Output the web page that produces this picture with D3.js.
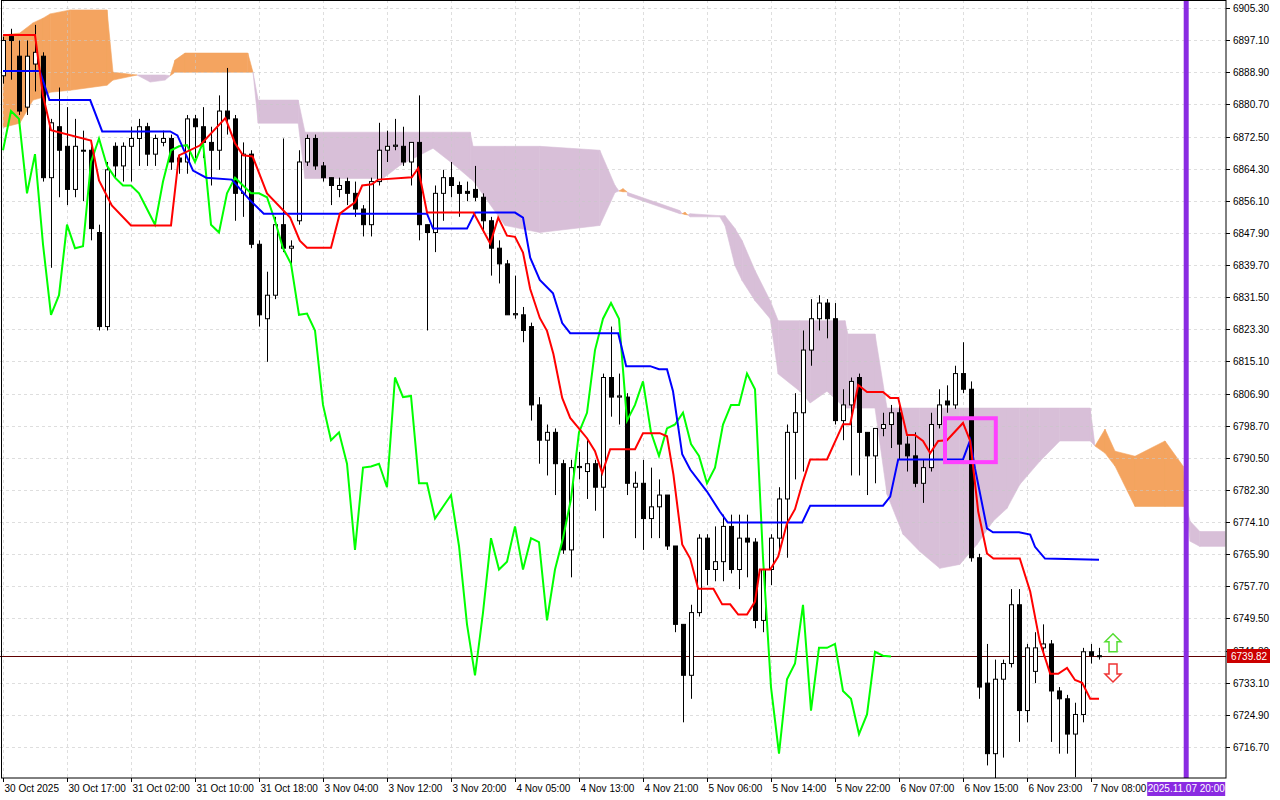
<!DOCTYPE html>
<html><head><meta charset="utf-8">
<script src="https://cdn.jsdelivr.net/npm/d3@7"></script>
<style>body{margin:0;background:#fff}svg{display:block}text{font-family:"Liberation Sans",Arial,sans-serif;font-size:10px;fill:#000}</style>
</head><body><svg id="c" width="1280" height="800"></svg>
<script>
// ---- data ----
const opens  = [6888,6898,6893,6880,6891,6893,6862,6875,6870,6859,6869,6869,6848,6824,6870,6865,6870,6872,6875,6868,6871,6872,6867,6866,6877,6875,6871,6869,6879,6877,6858,6868,6845,6826,6832,6850,6844,6851,6866,6872,6865,6862,6859,6861,6858,6854,6850,6861,6869,6870,6870,6866,6871,6850,6848,6858,6862,6860,6858.5,6859,6857,6851,6844,6840,6827,6827,6824,6804,6795,6797,6789,6767,6788,6787,6789,6783,6811,6806,6806,6783,6784,6775,6778,6781,6768,6748,6735,6751,6770,6762,6764,6773,6762,6770,6769,6749,6762,6770,6780,6797,6802,6818,6826,6830,6826,6800,6804,6811,6797,6791,6798,6799,6802,6794,6791,6784,6788,6799,6805,6804,6812,6808,6765,6733,6715,6734,6738,6753,6726,6736,6742,6743,6731,6729,6720,6725,6741,6740];
const highs  = [6898,6900,6897,6897,6901,6894,6877,6885,6880,6877,6874,6870,6850,6866,6871,6871,6875,6877,6876,6873,6874,6873,6868,6878,6878,6880,6875,6883,6890,6878,6871,6869,6846,6838,6852,6872,6846,6869,6873,6873,6866,6862,6862,6862,6861,6855,6862,6876,6874,6877,6875,6871,6883,6850,6860,6864,6866,6861,6861,6865,6858,6852,6846,6841,6837,6829,6825,6806,6799,6798,6790,6790,6792,6795,6790,6812,6824,6812,6807,6787,6790,6788,6785,6781,6768,6748,6753,6771,6771,6773,6776,6776,6776,6776,6770,6763,6771,6783,6799,6807,6823,6831,6832,6831,6830,6808,6811,6812,6797,6798,6802,6804,6804,6796,6797,6790,6802,6808,6809,6814,6820,6810,6766,6743,6739,6739,6757,6757,6743,6746,6748,6744,6732,6730,6728,6742,6743,6742];
const lows   = [6886,6887,6878,6878,6884,6861,6839,6857,6855,6857,6856,6846,6823,6823,6862,6861,6861,6865,6865,6865,6870,6864,6863,6863,6867,6867,6860,6864,6873,6851,6852,6844,6824,6815,6831,6843,6840,6850,6865,6864,6861,6855,6857,6855,6852,6847,6847,6860,6866,6869,6865,6860,6846,6823,6843,6851,6857,6852,6856,6856,6848,6837,6835,6827,6826,6820,6800,6789,6786,6781,6766,6760,6785,6780,6777,6770,6801,6799,6781,6770,6767,6770,6770,6767,6746,6723,6729,6750,6758,6759,6759,6761,6757,6760,6747,6746,6758,6766,6765,6785,6787,6814,6823,6821,6799,6795,6786,6786,6781,6784,6796,6793,6790,6787,6783,6779,6787,6798,6802,6803,6807,6764,6729,6712,6708,6714,6737,6718,6723,6733,6740,6718,6715,6715,6709,6723,6738,6739];
const closes = [6897,6897,6879,6893,6894,6862,6876,6869,6859,6870,6869,6849,6824,6864,6865,6870,6872,6875,6868,6872,6872,6866,6866,6877,6875,6871,6869,6879,6877,6858,6868,6845,6827,6832,6850,6844,6844.5,6866,6872,6865,6862,6860,6860,6858,6854,6850,6861,6869,6870,6870.3,6866,6871,6850,6848,6858,6862,6860,6858,6858,6857,6851,6844,6840,6827,6827.3,6823,6804,6795,6797,6789,6767,6788,6788.3,6789,6783,6811,6806,6806.3,6784,6784,6775,6778,6781,6768,6748,6735,6751,6770,6762,6764,6773,6762,6770,6769,6749,6762,6770,6780,6797,6802,6818,6826,6830,6826,6800,6804,6810,6797,6791,6798,6799,6802,6794,6791,6784,6788,6799,6804,6804,6812,6808,6765,6732,6715,6734,6738,6753,6726,6742,6742,6743,6731,6729,6720,6725,6741,6740,6739.82];
// Tenkan-sen [bar, price]
const tenkan = [[0,6898.4],[4,6898.4],[5,6883.0],[6,6874.1],[11,6871.5],[12,6861.3],[13.6,6854.9],[16,6849.8],[21,6849.8],[22,6867.7],[24.6,6870.2],[27.8,6877.2],[29,6870.8],[30,6867.7],[31.2,6867.4],[33,6858.0],[35.9,6851.8],[37.1,6845.9],[38,6844.1],[41,6844.1],[42.1,6852.8],[44,6855.7],[44.9,6860.0],[46.1,6860.3],[46.9,6861.5],[51.1,6862.1],[51.9,6864.4],[53,6853.1],[58.8,6853.1],[60.9,6845.2],[61.9,6851.8],[63,6847.2],[64,6846.9],[65,6842.9],[65.9,6833.6],[67.1,6826.2],[68,6822.9],[68.8,6817.0],[69.9,6805.8],[70.9,6800.7],[73,6795.5],[74,6792.2],[74.9,6786.6],[75.9,6792.7],[79,6792.7],[80,6796.8],[82.1,6796.8],[83,6796.0],[83.8,6786.3],[84.9,6768.4],[85.9,6764.8],[86.9,6757.1],[88.8,6757.1],[89.9,6753.1],[90.9,6753.1],[91.9,6750.5],[93,6750.5],[94,6753.8],[94.6,6762.0],[95.9,6762.0],[96.9,6765.3],[98,6773.8],[99,6777.4],[100,6784.5],[100.9,6790.1],[103,6790.1],[105,6799.1],[105.9,6799.1],[106.9,6809.1],[108,6807.3],[110,6807.3],[110.9,6805.8],[111.9,6805.8],[113,6796.3],[114,6796.3],[115,6794.8],[115.9,6791.7],[116.9,6794.8],[118,6795.0],[120,6799.4],[120.9,6794.8],[121.9,6776.8],[123,6766.1],[123.8,6764.8],[127.1,6764.8],[128.4,6756.4],[129.6,6743.6],[130.9,6735.4],[131.9,6735.4],[133,6736.9],[134,6733.8],[134.9,6733.1],[135.9,6729.0],[137,6729.0]];
// Kijun-sen [bar, price]
const kijun = [[0,6889.2],[4.6,6889.2],[5.8,6881.8],[10.9,6881.8],[12.4,6873.8],[20.9,6873.8],[21.8,6872.8],[23.75,6863.8],[25.4,6862.0],[28.6,6861.5],[30.9,6856.2],[32.6,6852.8],[53,6852.8],[53.75,6849.0],[58,6849.0],[59,6853.1],[64,6853.1],[65,6851.8],[65.9,6841.6],[67.1,6835.9],[68.75,6832.5],[69.9,6824.9],[70.9,6822.3],[76.9,6822.3],[77.9,6813.9],[80.9,6813.9],[82,6813.1],[83,6813.1],[83.75,6807.5],[84.9,6791.4],[85.9,6787.5],[88,6781.9],[89.6,6776.8],[90.6,6774.0],[99.9,6774.0],[100.9,6778.3],[110,6778.3],[110.9,6780.6],[111.9,6790.1],[120,6790.1],[120.9,6795.0],[121.5,6787.8],[123,6772.5],[123.75,6771.5],[127,6771.5],[128.4,6770.9],[129,6767.8],[130.25,6764.8],[137,6764.5]];
// Kumo: [bar, Senkou A, Senkou B]
const kumo = [[0,6898.4,6874.8],[2.1,6898.9,6875.9],[3.75,6901.5,6881.8],[5,6902.7,6882.5],[5.9,6903.8,6883.8],[8.4,6904.8,6884.3],[13,6904.8,6885.6],[13.75,6888.9,6886.9],[16.75,6888.2,6888.2],[18.4,6886.4,6888.2],[20.25,6886.9,6888.2],[20.9,6888.0,6888.0],[21.5,6892.0,6888.9],[22.75,6893.8,6888.9],[30.6,6893.8,6888.9],[31.25,6888.9,6888.9],[31.9,6875.9,6881.8],[36.9,6875.9,6881.8],[37.75,6861.8,6873.6],[47.5,6861.8,6873.6],[49.6,6865.1,6873.6],[53.75,6869.5,6873.6],[56.5,6865.1,6873.6],[58.4,6861.8,6873.6],[58.75,6861.3,6870.0],[62.75,6849.8,6870.0],[67.1,6848.0,6870.0],[74.6,6849.8,6869.0],[76.5,6858.2,6860.0],[77.0,6858.6,6858.6],[77.5,6859.2,6858.4],[78.0,6858.4,6858.4],[78.1,6857.4,6858.2],[84.6,6852.8,6853.6],[84.9,6852.8,6852.8],[85.25,6853.2,6852.6],[85.6,6852.5,6852.5],[85.9,6852.0,6852.8],[89.6,6852.0,6852.3],[90.25,6849.8,6852.3],[91.5,6839.5,6849.0],[92.4,6835.7,6845.9],[94,6830.6,6838.3],[95.9,6826.0,6830.6],[96.9,6811.9,6825.5],[99.6,6807.5,6825.5],[100.9,6804.5,6825.5],[103,6807.5,6825.5],[105.25,6803.2,6825.5],[105.6,6803.2,6822.1],[109,6803.2,6822.1],[110.5,6781.2,6803.2],[112.5,6771.0,6803.2],[114.6,6766.6,6803.2],[117.1,6762.3,6803.2],[119.6,6763.3,6803.2],[121.75,6768.4,6803.2],[123.75,6774.3,6803.2],[125.5,6777.6,6803.2],[127.1,6783.7,6803.2],[129.6,6789.6,6803.2],[132.1,6794.8,6803.2],[135.9,6794.8,6803.2],[136.5,6793.5,6793.5],[137.75,6797.8,6791.7],[139,6792.2,6788.4],[141.5,6790.9,6778.1],[145.25,6794.8,6778.1],[147.5,6788.4,6778.1],[147.9,6778.1,6778.1],[148.4,6769.2,6774.3],[149.6,6767.9,6771.7],[152.75,6767.9,6771.7]];
const chikouShift = 26;
const timeLabels = ["30 Oct 2025","30 Oct 17:00","31 Oct 02:00","31 Oct 10:00","31 Oct 18:00","3 Nov 04:00","3 Nov 12:00","3 Nov 20:00","4 Nov 05:00","4 Nov 13:00","4 Nov 21:00","5 Nov 06:00","5 Nov 14:00","5 Nov 22:00","6 Nov 07:00","6 Nov 15:00","6 Nov 23:00","7 Nov 08:00"];
const priceTicks = d3.range(0,24).map(k=>+(6716.7+8.2*k).toFixed(2));
const lastPrice = 6739.82;
const markerBar = 147.9, markerLabel = "2025.11.07 20:00";
const highlightBox = {b0:117.75,b1:124.1,p0:6800.6,p1:6789.4};
const arrowBar = 138.75, arrowUpPrice = 6745.6, arrowDownPrice = 6733.3;

// ---- scales ----
const svg = d3.select("#c");
const W=1226, H=778;
const x = d3.scaleLinear().domain([0,137]).range([3,1099]);
const y = d3.scaleLinear().domain([6716.7,6905.3]).range([747,8]);
const g = svg.append("g");
svg.append("clipPath").attr("id","cl").append("rect").attr("x",0).attr("y",0).attr("width",W).attr("height",H);
const pg = g.append("g").attr("clip-path","url(#cl)");

for(let k=0;k<kumo.length-1;k++){
  const a=kumo[k], b=kumo[k+1];
  const mid=(a[1]+b[1])/2-(a[2]+b[2])/2;
  pg.append("path").attr("d",`M${x(a[0])},${y(a[1])}L${x(b[0])},${y(b[1])}L${x(b[0])},${y(b[2])}L${x(a[0])},${y(a[2])}Z`)
    .attr("fill", mid>=0?"#f4a460":"#d8bfd8").attr("stroke", mid>=0?"#f4a460":"#d8bfd8").attr("stroke-width",0.6);
}
const gx = timeLabels.map((_,i)=>i*8);
pg.selectAll(".gh").data(priceTicks).enter().append("line").attr("x1",0).attr("x2",W).attr("y1",d=>Math.round(y(d))+0.5).attr("y2",d=>Math.round(y(d))+0.5).attr("stroke","#c8c8c8").attr("stroke-opacity",0.6).attr("stroke-dasharray","3,3");
pg.selectAll(".gv").data(gx).enter().append("line").attr("y1",0).attr("y2",H).attr("x1",d=>Math.round(x(d))+0.5).attr("x2",d=>Math.round(x(d))+0.5).attr("stroke","#c8c8c8").attr("stroke-opacity",0.6).attr("stroke-dasharray","3,3");

pg.append("line").attr("x1",0).attr("x2",W).attr("y1",Math.round(y(lastPrice))+0.5).attr("y2",Math.round(y(lastPrice))+0.5).attr("stroke","#600000").attr("stroke-width",1);
pg.append("line").attr("x1",x(markerBar)).attr("x2",x(markerBar)).attr("y1",0).attr("y2",H).attr("stroke","#8a2be2").attr("stroke-width",5);

const idx = d3.range(closes.length);
pg.selectAll(".wk").data(idx).enter().append("line").attr("x1",i=>Math.round(x(i))+0.5).attr("x2",i=>Math.round(x(i))+0.5).attr("y1",i=>y(highs[i])).attr("y2",i=>y(lows[i])).attr("stroke","#000");
pg.selectAll(".bd").data(idx).enter().append("rect")
  .attr("x",i=>Math.round(x(i))-2+0.5).attr("width",4)
  .attr("y",i=>y(Math.max(opens[i],closes[i]))).attr("height",i=>Math.max(1,Math.abs(y(opens[i])-y(closes[i]))))
  .attr("fill",i=>closes[i]>=opens[i]?"#fff":"#000").attr("stroke","#000").attr("stroke-width",1);

const ln = d3.line().x(d=>x(d[0])).y(d=>y(d[1]));
const chikou = closes.slice(chikouShift).map((c,j)=>[j,c]);
pg.append("path").attr("d",ln(chikou)).attr("fill","none").attr("stroke","#00ff00").attr("stroke-width",2);
pg.append("path").attr("d",ln(kijun)).attr("fill","none").attr("stroke","#0000ff").attr("stroke-width",2);
pg.append("path").attr("d",ln(tenkan)).attr("fill","none").attr("stroke","#ff0000").attr("stroke-width",2);

pg.append("rect").attr("x",x(highlightBox.b0)).attr("y",y(highlightBox.p0)).attr("width",x(highlightBox.b1)-x(highlightBox.b0)).attr("height",y(highlightBox.p1)-y(highlightBox.p0)).attr("fill","none").attr("stroke","#ff40ff").attr("stroke-width",4);

const ax=x(arrowBar);
function arrow(tipY,dir,col){
  const p=[[0,0],[8,8],[4,8],[4,18],[-4,18],[-4,8],[-8,8]].map(q=>[ax+q[0],tipY+dir*q[1]]);
  pg.append("path").attr("d","M"+p.map(q=>q.join(",")).join("L")+"Z").attr("fill","#fff").attr("stroke",col).attr("stroke-width",1.5);
}
arrow(y(arrowUpPrice),1,"#55dd33");
arrow(y(arrowDownPrice),-1,"#ee3333");

g.append("rect").attr("x",1.5).attr("y",0.5).attr("width",W-1.5).attr("height",H-0.5).attr("fill","none").attr("stroke","#000");

const ly=Math.round(y(lastPrice));
const ya = g.append("g");
priceTicks.forEach(p=>{
  const yy=Math.round(y(p))+0.5;
  ya.append("line").attr("x1",W).attr("x2",W+4).attr("y1",yy).attr("y2",yy).attr("stroke","#000");
  ya.append("text").attr("x",W+7).attr("y",yy+3.5).text(p.toFixed(2));
});
g.append("rect").attr("x",W+1).attr("y",ly-7).attr("width",43).attr("height",14).attr("fill","#cc0000");
g.append("text").attr("x",W+5).attr("y",ly+4).style("fill","#fff").text(lastPrice.toFixed(2));

timeLabels.forEach((t,i)=>{
  const xx=Math.round(x(gx[i]))+0.5;
  g.append("line").attr("x1",xx).attr("x2",xx).attr("y1",H).attr("y2",H+4).attr("stroke","#000");
  g.append("text").attr("x",xx+1).attr("y",H+14).text(t);
});
const mx=x(markerBar);
g.append("rect").attr("x",mx-39).attr("y",H+4).attr("width",78).attr("height",14).attr("fill","#8a2be2");
g.append("text").attr("x",mx).attr("y",H+14).attr("text-anchor","middle").style("fill","#fff").text(markerLabel);
</script></body></html>
